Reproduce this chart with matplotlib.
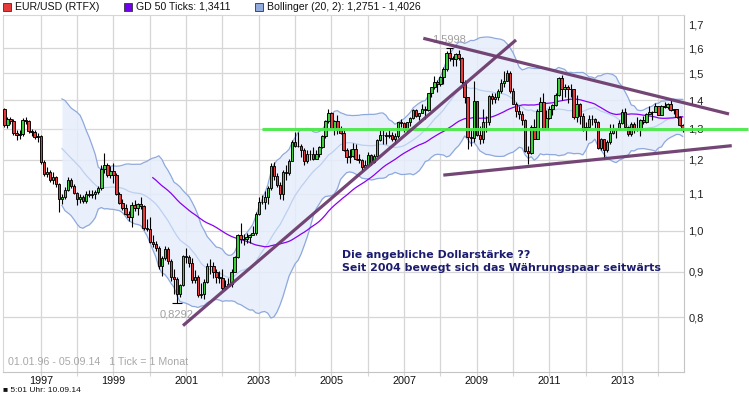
import numpy as np
import matplotlib

matplotlib.use("Agg")

import matplotlib.pyplot as plt  # noqa: E402
from matplotlib.patches import Rectangle  # noqa: E402
from matplotlib.ticker import FixedLocator, FuncFormatter, NullLocator  # noqa: E402

# Monatskerzen EUR/USD, Jan 1996 .. Sep 2014 (eine Zeile pro Jahr)
OPEN = [
    1.368, 1.313, 1.333, 1.328, 1.286, 1.279, 1.283, 1.331, 1.327, 1.293, 1.289, 1.273,
    1.276, 1.195, 1.158, 1.162, 1.140, 1.148, 1.128, 1.085, 1.092, 1.112, 1.140, 1.122,
    1.102, 1.085, 1.090, 1.080, 1.100, 1.095, 1.100, 1.105, 1.115, 1.172, 1.185, 1.155,
    1.165, 1.155, 1.100, 1.075, 1.060, 1.045, 1.035, 1.068, 1.060, 1.070, 1.065, 1.008,
    1.005, 0.972, 0.966, 0.957, 0.912, 0.933, 0.953, 0.925, 0.888, 0.882, 0.850, 0.870,
    0.938, 0.935, 0.921, 0.880, 0.888, 0.848, 0.850, 0.877, 0.912, 0.913, 0.900, 0.888,
    0.885, 0.862, 0.867, 0.872, 0.900, 0.935, 0.988, 0.978, 0.980, 0.985, 0.988, 0.993,
    1.045, 1.078, 1.078, 1.090, 1.115, 1.182, 1.150, 1.125, 1.098, 1.162, 1.160, 1.198,
    1.258, 1.245, 1.245, 1.230, 1.196, 1.220, 1.218, 1.202, 1.218, 1.240, 1.276, 1.327,
    1.356, 1.304, 1.326, 1.296, 1.288, 1.231, 1.210, 1.213, 1.233, 1.204, 1.199, 1.179,
    1.184, 1.215, 1.193, 1.212, 1.262, 1.281, 1.279, 1.277, 1.281, 1.268, 1.276, 1.322,
    1.320, 1.298, 1.322, 1.336, 1.365, 1.345, 1.353, 1.369, 1.364, 1.426, 1.448, 1.466,
    1.460, 1.486, 1.519, 1.580, 1.561, 1.555, 1.575, 1.560, 1.468, 1.410, 1.273, 1.270,
    1.397, 1.281, 1.266, 1.325, 1.323, 1.414, 1.403, 1.410, 1.433, 1.464, 1.472, 1.501,
    1.433, 1.387, 1.363, 1.351, 1.330, 1.229, 1.222, 1.305, 1.268, 1.362, 1.392, 1.299,
    1.338, 1.369, 1.381, 1.417, 1.481, 1.439, 1.450, 1.439, 1.440, 1.339, 1.386, 1.345,
    1.296, 1.308, 1.334, 1.334, 1.323, 1.237, 1.266, 1.230, 1.257, 1.286, 1.296, 1.299,
    1.319, 1.358, 1.306, 1.282, 1.317, 1.300, 1.301, 1.330, 1.322, 1.352, 1.358, 1.359,
    1.379, 1.349, 1.380, 1.377, 1.387, 1.364, 1.369, 1.339, 1.313,
]
HIGH = [
    1.372, 1.340, 1.340, 1.333, 1.297, 1.295, 1.338, 1.342, 1.330, 1.301, 1.296, 1.286,
    1.280, 1.200, 1.178, 1.168, 1.162, 1.152, 1.132, 1.100, 1.120, 1.148, 1.145, 1.128,
    1.106, 1.098, 1.095, 1.108, 1.112, 1.110, 1.112, 1.122, 1.185, 1.222, 1.190, 1.180,
    1.190, 1.160, 1.105, 1.085, 1.072, 1.052, 1.078, 1.082, 1.075, 1.092, 1.068, 1.030,
    1.035, 0.990, 0.975, 0.962, 0.938, 0.962, 0.958, 0.930, 0.905, 0.887, 0.872, 0.940,
    0.957, 0.940, 0.932, 0.903, 0.893, 0.873, 0.882, 0.920, 0.930, 0.922, 0.905, 0.902,
    0.905, 0.880, 0.885, 0.905, 0.938, 0.992, 1.020, 0.992, 0.995, 0.992, 1.013, 1.050,
    1.090, 1.095, 1.107, 1.122, 1.190, 1.193, 1.160, 1.135, 1.168, 1.185, 1.202, 1.263,
    1.290, 1.290, 1.250, 1.237, 1.230, 1.230, 1.240, 1.230, 1.245, 1.280, 1.330, 1.367,
    1.358, 1.330, 1.348, 1.310, 1.300, 1.238, 1.233, 1.255, 1.250, 1.220, 1.204, 1.200,
    1.225, 1.220, 1.220, 1.265, 1.298, 1.295, 1.290, 1.297, 1.290, 1.285, 1.325, 1.335,
    1.325, 1.325, 1.340, 1.370, 1.370, 1.355, 1.385, 1.380, 1.427, 1.450, 1.490, 1.475,
    1.490, 1.525, 1.590, 1.5998, 1.570, 1.580, 1.595, 1.563, 1.475, 1.410, 1.300, 1.470,
    1.398, 1.310, 1.370, 1.345, 1.418, 1.425, 1.425, 1.442, 1.478, 1.508, 1.512, 1.510,
    1.445, 1.395, 1.380, 1.360, 1.332, 1.245, 1.312, 1.333, 1.368, 1.412, 1.425, 1.365,
    1.380, 1.386, 1.425, 1.487, 1.494, 1.460, 1.455, 1.460, 1.439, 1.420, 1.390, 1.355,
    1.323, 1.349, 1.348, 1.338, 1.326, 1.270, 1.268, 1.264, 1.317, 1.315, 1.302, 1.330,
    1.368, 1.371, 1.310, 1.322, 1.325, 1.340, 1.335, 1.345, 1.356, 1.380, 1.361, 1.390,
    1.380, 1.382, 1.395, 1.390, 1.399, 1.370, 1.370, 1.345, 1.317,
]
LOW = [
    1.308, 1.302, 1.318, 1.280, 1.262, 1.268, 1.276, 1.318, 1.287, 1.278, 1.266, 1.258,
    1.188, 1.150, 1.148, 1.135, 1.128, 1.120, 1.050, 1.072, 1.085, 1.108, 1.115, 1.098,
    1.068, 1.075, 1.073, 1.075, 1.090, 1.088, 1.085, 1.100, 1.112, 1.160, 1.148, 1.145,
    1.130, 1.095, 1.070, 1.055, 1.040, 1.025, 1.010, 1.052, 1.040, 1.058, 1.002, 0.998,
    0.968, 0.958, 0.948, 0.905, 0.890, 0.928, 0.918, 0.878, 0.850, 0.8292, 0.842, 0.868,
    0.920, 0.910, 0.875, 0.875, 0.842, 0.840, 0.838, 0.875, 0.895, 0.885, 0.875, 0.875,
    0.858, 0.858, 0.865, 0.865, 0.900, 0.933, 0.970, 0.965, 0.970, 0.968, 0.990, 0.990,
    1.042, 1.070, 1.058, 1.070, 1.110, 1.140, 1.120, 1.085, 1.082, 1.140, 1.155, 1.196,
    1.240, 1.240, 1.209, 1.185, 1.190, 1.200, 1.200, 1.202, 1.210, 1.238, 1.270, 1.320,
    1.300, 1.280, 1.283, 1.283, 1.228, 1.190, 1.190, 1.210, 1.200, 1.190, 1.165, 1.178,
    1.180, 1.185, 1.190, 1.210, 1.260, 1.250, 1.250, 1.270, 1.260, 1.250, 1.270, 1.305,
    1.290, 1.290, 1.310, 1.335, 1.340, 1.330, 1.353, 1.335, 1.363, 1.410, 1.440, 1.430,
    1.452, 1.460, 1.510, 1.550, 1.530, 1.530, 1.552, 1.460, 1.390, 1.235, 1.245, 1.258,
    1.278, 1.250, 1.255, 1.290, 1.312, 1.385, 1.390, 1.400, 1.425, 1.450, 1.470, 1.425,
    1.385, 1.342, 1.335, 1.312, 1.225, 1.1876, 1.220, 1.265, 1.267, 1.362, 1.295, 1.305,
    1.335, 1.349, 1.380, 1.415, 1.400, 1.410, 1.390, 1.412, 1.335, 1.322, 1.315, 1.292,
    1.262, 1.305, 1.312, 1.300, 1.235, 1.230, 1.2042, 1.226, 1.250, 1.282, 1.270, 1.296,
    1.317, 1.305, 1.275, 1.275, 1.285, 1.292, 1.277, 1.318, 1.320, 1.350, 1.330, 1.357,
    1.347, 1.350, 1.373, 1.370, 1.360, 1.350, 1.338, 1.310, 1.291,
]
CLOSE = [
    1.313, 1.333, 1.328, 1.286, 1.279, 1.283, 1.331, 1.327, 1.293, 1.289, 1.273, 1.276,
    1.195, 1.158, 1.162, 1.140, 1.148, 1.128, 1.085, 1.092, 1.112, 1.140, 1.122, 1.102,
    1.085, 1.090, 1.080, 1.100, 1.095, 1.100, 1.105, 1.115, 1.172, 1.185, 1.155, 1.165,
    1.155, 1.100, 1.075, 1.060, 1.045, 1.035, 1.068, 1.060, 1.070, 1.065, 1.008, 1.005,
    0.972, 0.966, 0.957, 0.912, 0.933, 0.953, 0.925, 0.888, 0.882, 0.850, 0.870, 0.938,
    0.935, 0.921, 0.880, 0.888, 0.848, 0.850, 0.877, 0.912, 0.913, 0.900, 0.888, 0.885,
    0.862, 0.867, 0.872, 0.900, 0.935, 0.988, 0.978, 0.980, 0.985, 0.988, 0.993, 1.045,
    1.078, 1.078, 1.090, 1.115, 1.182, 1.150, 1.125, 1.098, 1.162, 1.160, 1.198, 1.258,
    1.245, 1.245, 1.230, 1.196, 1.220, 1.218, 1.202, 1.218, 1.240, 1.276, 1.327, 1.356,
    1.304, 1.326, 1.296, 1.288, 1.231, 1.210, 1.213, 1.233, 1.204, 1.199, 1.179, 1.184,
    1.215, 1.193, 1.212, 1.262, 1.281, 1.279, 1.277, 1.281, 1.268, 1.276, 1.322, 1.320,
    1.298, 1.322, 1.336, 1.365, 1.345, 1.353, 1.369, 1.364, 1.426, 1.448, 1.466, 1.460,
    1.486, 1.519, 1.580, 1.561, 1.555, 1.575, 1.560, 1.468, 1.410, 1.273, 1.270, 1.397,
    1.281, 1.266, 1.325, 1.323, 1.414, 1.403, 1.410, 1.433, 1.464, 1.472, 1.501, 1.433,
    1.387, 1.363, 1.351, 1.330, 1.229, 1.222, 1.305, 1.268, 1.362, 1.392, 1.299, 1.338,
    1.369, 1.381, 1.417, 1.481, 1.439, 1.450, 1.439, 1.440, 1.339, 1.386, 1.345, 1.296,
    1.308, 1.334, 1.334, 1.323, 1.237, 1.266, 1.230, 1.257, 1.286, 1.296, 1.299, 1.319,
    1.358, 1.306, 1.282, 1.317, 1.300, 1.301, 1.330, 1.322, 1.352, 1.358, 1.359, 1.379,
    1.349, 1.380, 1.377, 1.387, 1.364, 1.369, 1.339, 1.313, 1.295,
]
FIRST_YEAR = 1996
YEARS = list(range(1997, 2015))
Y_TICKS = [0.8, 0.9, 1.0, 1.1, 1.2, 1.3, 1.4, 1.5, 1.6, 1.7]
GRID_LEVELS = [0.8, 0.9, 1.0, 1.1, 1.2, 1.3, 1.4, 1.5, 1.6]

# eingezeichnete Linien: (Monatsindex, Kurs)
TREND_UP = [(58.98, 0.783), (168.96, 1.635)]
TREND_TOP = [(138.34, 1.642), (239.3, 1.351)]
TREND_BOTTOM = [(144.95, 1.154), (240.2, 1.245)]
GREEN_LEVEL = 1.30
GREEN_SPAN = (85.1, 245.6)

SMA_LEN = 50
BB_LEN, BB_K = 20, 2

UP_COLOR = "#3ccf3c"
DOWN_COLOR = "#e63b3b"
GRID_COLOR = "#d6d6d6"
BAND_FILL = "#e6eefb"
BAND_EDGE = "#8fa9de"
BAND_MID = "#bcd0f2"
SMA_COLOR = "#8a00f0"
TREND_COLOR = "#6d3c6e"
LINE_GREEN = "#4ce84c"
NOTE_COLOR = "#1c1c6e"
UI_FONT = ["Liberation Sans", "DejaVu Sans"]

W, H = 749, 395

o = np.array(OPEN)
h = np.array(HIGH)
lo = np.array(LOW)
c = np.array(CLOSE)
idx = np.arange(len(c))

fig = plt.figure(figsize=(W / 100, H / 100), dpi=100, facecolor="white")
ax = fig.add_axes([2.7 / W, (H - 371.7) / H, (684.3 - 2.7) / W, (371.7 - 15) / H])
ax.set_yscale("log")
ax.set_xlim(-0.56, 224.53)
ax.set_ylim(0.6953, 1.7436)

# Raster
for lv in GRID_LEVELS:
    ax.axhline(lv, color=GRID_COLOR, lw=0.9, zorder=0)
jan_idx = [(y - FIRST_YEAR) * 12 for y in YEARS]
for xi in jan_idx:
    ax.axvline(xi, color=GRID_COLOR, lw=0.9, zorder=0)

# Bollinger (20, 2)
s = np.convolve(c, np.ones(BB_LEN) / BB_LEN, mode="valid")
sd = np.array([c[i:i + BB_LEN].std() for i in range(len(c) - BB_LEN + 1)])
bx = idx[BB_LEN - 1:]
ax.fill_between(bx, s - BB_K * sd, s + BB_K * sd, color=BAND_FILL, alpha=0.85,
                lw=0, zorder=1)
ax.plot(bx, s + BB_K * sd, color=BAND_EDGE, lw=0.9, zorder=2)
ax.plot(bx, s - BB_K * sd, color=BAND_EDGE, lw=0.9, zorder=2)
ax.plot(bx, s, color=BAND_MID, lw=0.9, zorder=2)

# GD 50
gd = np.convolve(c, np.ones(SMA_LEN) / SMA_LEN, mode="valid")
ax.plot(idx[SMA_LEN - 1:], gd, color=SMA_COLOR, lw=0.9, zorder=3)

# Kerzen
up = c >= o
ax.vlines(idx, lo, h, color="black", lw=0.8, zorder=4)
ax.bar(idx, np.abs(c - o), bottom=np.minimum(o, c), width=0.8,
       color=np.where(up, UP_COLOR, DOWN_COLOR), edgecolor="black",
       linewidth=0.65, zorder=5)

# Hoch / Tief markieren
i_hi = int(np.argmax(h))
i_lo = int(np.argmin(lo))
ax.hlines([h[i_hi]], i_hi - 1.2, i_hi + 1.2, color="black", lw=0.8, zorder=5)
ax.hlines([lo[i_lo]], i_lo - 1.5, i_lo + 1.5, color="black", lw=0.8, zorder=5)
ax.annotate(f"{h[i_hi]:.4f}".replace(".", ","), (i_hi, h[i_hi]), xytext=(0, 6.5),
            textcoords="offset points", ha="center", va="center",
            color="#a0a0a0", fontsize=8, family=UI_FONT, zorder=6)
ax.annotate(f"{lo[i_lo]:.4f}".replace(".", ","), (i_lo, lo[i_lo]), xytext=(0, -8),
            textcoords="offset points", ha="center", va="center",
            color="#a0a0a0", fontsize=8, family=UI_FONT, zorder=6)

# Linien
ax.plot(GREEN_SPAN, [GREEN_LEVEL] * 2, color=LINE_GREEN, lw=2.2, alpha=0.95,
        solid_capstyle="butt", clip_on=False, zorder=7)
for seg in (TREND_UP, TREND_TOP, TREND_BOTTOM):
    xs, ys = zip(*seg)
    ax.plot(xs, ys, color=TREND_COLOR, lw=2.3, alpha=0.95, clip_on=False,
            solid_capstyle="butt", zorder=8)

ax.text(111.5, 0.9237, "Die angebliche Dollarstärke ??\n"
        "Seit 2004 bewegt sich das Währungspaar seitwärts",
        color=NOTE_COLOR, fontsize=7.9, fontweight="bold", ha="left",
        va="center", linespacing=1.38, zorder=9)
ax.text(0.008, 0.018, "01.01.96 - 05.09.14   1 Tick = 1 Monat",
        transform=ax.transAxes, color="#a8a8a8", fontsize=7.7, family=UI_FONT,
        zorder=9)

# Achsen
ax.yaxis.tick_right()
ax.yaxis.set_major_locator(FixedLocator(Y_TICKS))
ax.yaxis.set_minor_locator(NullLocator())
ax.yaxis.set_major_formatter(
    FuncFormatter(lambda v, p: f"{v:.1f}".replace(".", ",")))
ax.tick_params(axis="y", length=0, pad=3, labelsize=8, colors="#222222")
ax.xaxis.set_major_locator(FixedLocator(jan_idx))
ax.xaxis.set_major_formatter(
    FuncFormatter(lambda v, p: str(FIRST_YEAR + int(round(v)) // 12)
                  if (FIRST_YEAR + int(round(v)) // 12) % 2 else ""))
ax.tick_params(axis="x", length=3, width=0.8, color=GRID_COLOR, pad=0,
               labelsize=7.8, labelcolor="#111111")
for lab in ax.get_xticklabels() + ax.get_yticklabels():
    lab.set_family(UI_FONT)
for side in ("left", "top"):
    ax.spines[side].set_color(GRID_COLOR)
for side in ("right", "bottom"):
    ax.spines[side].set_color("#c4c4c4")

# Legende oben
legend = [
    (3, DOWN_COLOR, "EUR/USD (RTFX)"),
    (124, "#7000ee", "GD 50 Ticks: 1,3411"),
    (255, "#91acdc", "Bollinger (20, 2): 1,2751 - 1,4026"),
]
for px, col, label in legend:
    fig.patches.append(Rectangle((px / W, 1 - 11 / H), 8 / W, 8 / H,
                                 transform=fig.transFigure, facecolor=col,
                                 edgecolor="#333333", lw=0.6))
    fig.text((px + 12) / W, 1 - 6.5 / H, label, fontsize=7.6, va="center",
             color="#111111", family=UI_FONT)

fig.text(3 / W, 0.5 / H, "■ 5:01 Uhr: 10.09.14", fontsize=6, va="bottom",
         color="#111111", family=UI_FONT)

fig.savefig("out.png", dpi=100, facecolor="white")
